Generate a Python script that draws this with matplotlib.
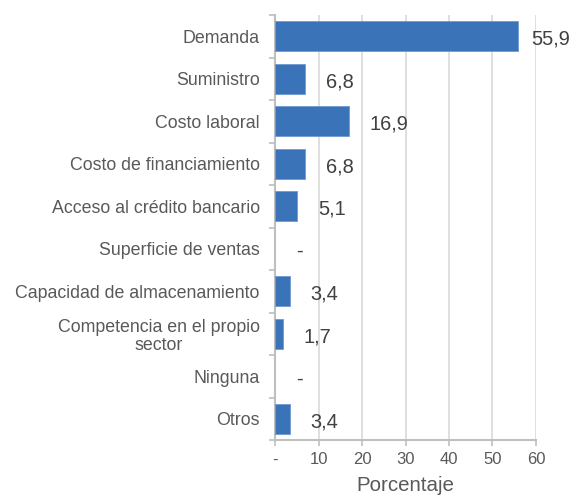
import numpy as np
import matplotlib.pyplot as plt
from matplotlib.ticker import FixedLocator, FuncFormatter

plt.rcParams['font.family'] = ['Liberation Sans', 'DejaVu Sans']

categorias = ['Demanda', 'Suministro', 'Costo laboral', 'Costo de financiamiento',
              'Acceso al crédito bancario', 'Superficie de ventas',
              'Capacidad de almacenamiento', 'Competencia en el propio\nsector',
              'Ninguna', 'Otros']
valores = [55.9, 6.8, 16.9, 6.8, 5.1, 0.0, 3.4, 1.7, 0.0, 3.4]
xticks = [0, 10, 20, 30, 40, 50, 60]

azul = '#3B73B9'
gris_txt = '#595959'
gris_eje = '#BFBFBF'


def etiqueta(v):
    if v == 0:
        return '-'
    return ('%.1f' % v).replace('.', ',')


fig = plt.figure(figsize=(5.72, 5.0), dpi=100)
ax = fig.add_axes([0.481, 0.12, 0.456, 0.85])

y = np.arange(len(categorias))
bordes = [0.6 if v > 0 else 0 for v in valores]
ax.barh(y, valores, height=0.7, color=azul, edgecolor='#6E9AD0', linewidth=bordes, zorder=3)

ax.set_ylim(len(categorias) - 0.5, -0.5)
ax.set_xlim(0, 60)

ax.set_yticks(y)
ax.set_yticklabels(categorias, fontsize=12.8, color=gris_txt, linespacing=1.1,
                   multialignment='center')
ax.yaxis.set_minor_locator(FixedLocator(np.arange(-0.5, len(categorias), 1.0)))
ax.tick_params(axis='y', which='major', length=0, pad=11)
ax.tick_params(axis='y', which='minor', length=4, width=1.2, color=gris_eje, direction='out')

ax.xaxis.set_major_locator(FixedLocator(xticks))
ax.xaxis.set_major_formatter(FuncFormatter(lambda v, p: '-' if v == 0 else '%d' % v))
ax.tick_params(axis='x', which='major', length=4, width=1.2, color=gris_eje,
               labelsize=12, labelcolor=gris_txt, pad=5)
ax.set_xlabel('Porcentaje', fontsize=14.8, color=gris_txt, labelpad=6)

ax.grid(axis='x', color='#D9D9D9', linewidth=1.2, zorder=0)
for s in ['top', 'right']:
    ax.spines[s].set_visible(False)
for s in ['left', 'bottom']:
    ax.spines[s].set_color(gris_eje)
    ax.spines[s].set_linewidth(1.5)

for yi, v in zip(y, valores):
    dx = 15 if v < 50 else 9.5
    ax.annotate(etiqueta(v), (v, yi), xytext=(dx, -2), textcoords='offset points',
                ha='left', va='center', fontsize=14.4, color='#404040')

fig.savefig('out.png', dpi=100)
